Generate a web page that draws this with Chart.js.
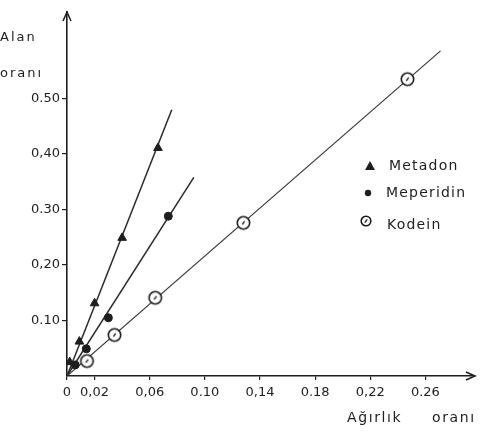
<!DOCTYPE html>
<html>
<head>
<meta charset="utf-8">
<script src="https://cdn.jsdelivr.net/npm/chart.js@4.4.0/dist/chart.umd.min.js"></script>
<style>
  html, body { margin: 0; padding: 0; background: #fff; }
  #wrap { width: 482px; height: 433px; position: relative; }
</style>
</head>
<body>
<div id="wrap"><canvas id="c" width="482" height="433"></canvas></div>
<script>
// ---- Data ----
const seriesNames = ["Metadon", "Meperidin", "Kodein"];

const metadonX   = [0.002, 0.009, 0.020, 0.040, 0.066];
const metadonY   = [0.025, 0.062, 0.131, 0.249, 0.411];
const meperidinX = [0.006, 0.014, 0.030, 0.0735];
const meperidinY = [0.020, 0.049, 0.105, 0.288];
const kodeinX    = [0.0145, 0.0345, 0.064, 0.128, 0.247];
const kodeinY    = [0.027, 0.074, 0.141, 0.276, 0.535];

// fitted calibration lines (start / end points)
const metadonLineX   = [0, 0.076];
const metadonLineY   = [0, 0.480];
const meperidinLineX = [0, 0.092];
const meperidinLineY = [0, 0.358];
const kodeinLineX    = [0, 0.271];
const kodeinLineY    = [0, 0.586];

const xTickValues = [0, 0.02, 0.06, 0.10, 0.14, 0.18, 0.22, 0.26];
const xTickLabels = ["0", "0,02", "0,06", "0.10", "0,14", "0.18", "0,22", "0.26"];
const yTickValues = [0.10, 0.20, 0.30, 0.40, 0.50];
const yTickLabels = ["0.10", "0,20", "0.30", "0,40", "0.50"];

const yTitleLines = ["Alan", "oranı"];
const xTitleWords = ["Ağırlık", "oranı"];

function pts(xs, ys) { return xs.map((x, i) => ({ x: x, y: ys[i] })); }

// open circle with small inner mark for Kodein
function makeKodeinMark(r) {
  const s = Math.ceil(r * 2 + 4);
  const cv = document.createElement('canvas');
  cv.width = s; cv.height = s;
  const g = cv.getContext('2d');
  g.strokeStyle = '#1a1a1a';
  g.fillStyle = '#fff';
  g.lineWidth = 1.6;
  g.beginPath(); g.arc(s / 2, s / 2, r, 0, Math.PI * 2); g.fill(); g.stroke();
  g.lineWidth = 1.3;
  g.beginPath(); g.moveTo(s / 2 - 1.2, s / 2 + 1.6); g.lineTo(s / 2 + 1.2, s / 2 - 1.6); g.stroke();
  return cv;
}
const kodeinMark = makeKodeinMark(6.2);
const kodeinLegendMark = makeKodeinMark(4.8);

const INK = '#1e1e1e';
const FONT = "'DejaVu Sans', 'Liberation Sans', sans-serif";

const decorations = {
  id: 'decorations',
  afterDraw(chart) {
    const ctx = chart.ctx;
    const ca = chart.chartArea;
    ctx.save();
    ctx.strokeStyle = INK;
    ctx.lineWidth = 1.5;
    // arrow heads
    ctx.beginPath();
    ctx.moveTo(ca.left - 4, ca.top + 9); ctx.lineTo(ca.left, ca.top); ctx.lineTo(ca.left + 4, ca.top + 9);
    ctx.moveTo(ca.right - 9, ca.bottom - 4); ctx.lineTo(ca.right, ca.bottom); ctx.lineTo(ca.right - 9, ca.bottom + 4);
    ctx.stroke();

    // axis titles
    ctx.fillStyle = INK;
    ctx.font = "13px " + FONT;
    ctx.letterSpacing = '2px';
    ctx.textBaseline = 'middle';
    ctx.textAlign = 'left';
    ctx.fillText(yTitleLines[0], 0, 38);
    ctx.fillText(yTitleLines[1], 0, 74);
    ctx.font = "14px " + FONT;
    ctx.letterSpacing = '1.6px';
    ctx.fillText(xTitleWords[0], 347, 418);
    ctx.fillText(xTitleWords[1], 432, 418);

    // legend
    const lx = 370, ly = [166, 193, 223];
    ctx.letterSpacing = '1.2px';
    ctx.font = "14px " + FONT;
    // triangle
    ctx.beginPath();
    ctx.moveTo(lx, ly[0] - 5); ctx.lineTo(lx + 5, ly[0] + 4); ctx.lineTo(lx - 5, ly[0] + 4); ctx.closePath();
    ctx.fill();
    ctx.fillText(seriesNames[0], 389, ly[0]);
    // filled circle
    ctx.beginPath(); ctx.arc(lx - 2, ly[1], 3.2, 0, Math.PI * 2); ctx.fill();
    ctx.fillText(seriesNames[1], 386, ly[1]);
    // open circle
    ctx.drawImage(kodeinLegendMark, lx - 4 - kodeinLegendMark.width / 2, ly[2] - 2 - kodeinLegendMark.height / 2);
    ctx.fillText(seriesNames[2], 387, ly[2] + 2);
    ctx.restore();
  }
};

new Chart(document.getElementById('c'), {
  type: 'scatter',
  data: {
    datasets: [
      { label: seriesNames[0] + ' line', data: pts(metadonLineX, metadonLineY), showLine: true, pointRadius: 0,
        borderColor: '#2a2a2a', borderWidth: 1.5, order: 5 },
      { label: seriesNames[1] + ' line', data: pts(meperidinLineX, meperidinLineY), showLine: true, pointRadius: 0,
        borderColor: '#2a2a2a', borderWidth: 1.5, order: 5 },
      { label: seriesNames[2] + ' line', data: pts(kodeinLineX, kodeinLineY), showLine: true, pointRadius: 0,
        borderColor: '#3a3a3a', borderWidth: 1.2, order: 5 },
      { label: seriesNames[0], data: pts(metadonX, metadonY), pointStyle: 'triangle', pointRadius: 5,
        backgroundColor: INK, borderColor: INK, borderWidth: 1, order: 1 },
      { label: seriesNames[1], data: pts(meperidinX, meperidinY), pointStyle: 'circle', pointRadius: 4,
        backgroundColor: INK, borderColor: INK, borderWidth: 1, order: 1 },
      { label: seriesNames[2], data: pts(kodeinX, kodeinY), pointStyle: kodeinMark, pointRadius: 6,
        backgroundColor: '#fff', borderColor: INK, order: 1 }
    ]
  },
  options: {
    responsive: false,
    animation: false,
    events: [],
    layout: { padding: { top: 12, right: 4, left: 0, bottom: 0 } },
    plugins: { legend: { display: false }, tooltip: { enabled: false } },
    scales: {
      x: {
        type: 'linear', min: 0, max: 0.296,
        afterBuildTicks: (s) => { s.ticks = xTickValues.map(v => ({ value: v })); },
        afterFit: (s) => { s.height = 57; },
        ticks: {
          autoSkip: false, maxRotation: 0, color: INK, padding: 5,
          font: { family: FONT, size: 13 },
          callback: (v, i) => xTickLabels[i]
        },
        grid: { drawOnChartArea: false, drawTicks: true, tickLength: 4, color: INK, lineWidth: 1.2 },
        border: { display: true, color: INK, width: 1.6 }
      },
      y: {
        type: 'linear', min: 0, max: 0.656,
        afterBuildTicks: (s) => { s.ticks = yTickValues.map(v => ({ value: v })); },
        afterFit: (s) => { s.width = 67; },
        ticks: {
          autoSkip: false, color: INK, padding: 2,
          font: { family: FONT, size: 13 },
          callback: (v, i) => yTickLabels[i]
        },
        grid: { drawOnChartArea: false, drawTicks: true, tickLength: 5, color: INK, lineWidth: 1.2 },
        border: { display: true, color: INK, width: 1.6 }
      }
    }
  },
  plugins: [decorations]
});
</script>
</body>
</html>
